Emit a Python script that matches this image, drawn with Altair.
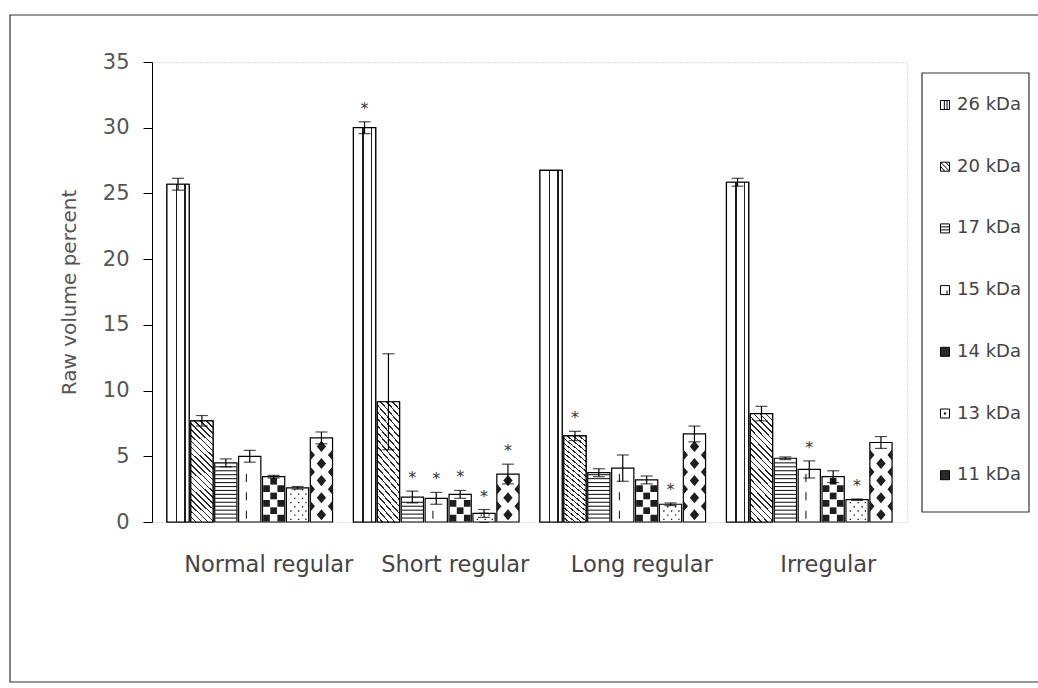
import altair as alt
import pandas as pd

# ---- data -------------------------------------------------------------
groups = ["Normal regular", "Short regular", "Long regular", "Irregular"]
bands = ["26 kDa", "20 kDa", "17 kDa", "15 kDa", "14 kDa", "13 kDa", "11 kDa"]

normal_regular = [25.7, 7.7, 4.5, 5.0, 3.45, 2.6, 6.4]
short_regular = [30.0, 9.15, 1.9, 1.8, 2.1, 0.65, 3.65]
long_regular = [26.75, 6.55, 3.75, 4.1, 3.2, 1.35, 6.7]
irregular = [25.85, 8.25, 4.85, 4.0, 3.45, 1.7, 6.05]

normal_regular_err = [0.45, 0.4, 0.3, 0.45, 0.1, 0.1, 0.45]
short_regular_err = [0.45, 3.65, 0.45, 0.45, 0.3, 0.3, 0.75]
long_regular_err = [0.0, 0.35, 0.3, 1.0, 0.3, 0.1, 0.6]
irregular_err = [0.3, 0.55, 0.1, 0.65, 0.45, 0.05, 0.45]

# 1 = significant difference (asterisk)
normal_regular_sig = [0, 0, 0, 0, 0, 0, 0]
short_regular_sig = [1, 0, 1, 1, 1, 1, 1]
long_regular_sig = [0, 1, 0, 0, 0, 1, 0]
irregular_sig = [0, 0, 0, 1, 0, 1, 0]

values = [normal_regular, short_regular, long_regular, irregular]
errors = [normal_regular_err, short_regular_err, long_regular_err, irregular_err]
sigs = [normal_regular_sig, short_regular_sig, long_regular_sig, irregular_sig]

rows = []
for g, vals, errs, sg in zip(groups, values, errors, sigs):
    for b, v, e, s in zip(bands, vals, errs, sg):
        rows.append({"group": g, "band": b, "value": v, "mid": v / 2, "err": e,
                     "lo": v - e, "hi": v + e, "sig": s})
df = pd.DataFrame(rows)

# ---- layout -----------------------------------------------------------
W, H = 755, 460
FONT = "DejaVu Sans"
INK = "#1e1e1e"
PAD_IN, PAD_OUT = 0.112, 0.08
SUB_PAD = 0.07
step = W / (len(groups) - PAD_IN + 2 * PAD_OUT)
bar_w = step * (1 - PAD_IN) / (len(bands) - SUB_PAD) * (1 - SUB_PAD)
SYM = bar_w ** 2  # custom symbol paths span [-1, 1] across one bar

x_enc = alt.X("group:N", sort=groups,
              scale=alt.Scale(paddingInner=PAD_IN, paddingOuter=PAD_OUT),
              axis=alt.Axis(title=None, ticks=False, domain=False, labelAngle=0,
                            labelFont=FONT, labelFontSize=22.5, labelColor="#444",
                            labelPadding=31, labelOffset=19, labelLimit=300))
xo_enc = alt.XOffset("band:N", sort=bands,
                     scale=alt.Scale(paddingInner=SUB_PAD, paddingOuter=0))
y_scale = alt.Scale(domain=[0, 35], nice=False)
y_axis = alt.Axis(values=list(range(0, 36, 5)), grid=False, domainColor="black",
                  tickColor="black", tickSize=9, labelFont=FONT, labelFontSize=21,
                  labelColor="#555", labelPadding=14, title="Raw volume percent",
                  titleFont=FONT, titleFontSize=20, titleFontWeight="normal",
                  titleColor="#555", titlePadding=23)

# ---- pattern geometry for hatched bars --------------------------------
def square(cx, cy, s):
    return f"M{cx - s:.3f},{cy - s:.3f}h{2 * s:.3f}v{2 * s:.3f}h{-2 * s:.3f}Z"

def row_positions(value, start, pitch, margin):
    out, k = [], 0
    while start + k * pitch + margin <= value:
        out.append((k, start + k * pitch))
        k += 1
    return out

SHAPES = {
    "hline": ("M-1,0H1", False),
    "dash": ("M-0.3,-0.36V0.36", False),
    "check_a": (square(-0.64, 0, 0.3) + " " + square(0.64, 0, 0.3), True),
    "check_b": (square(0, 0, 0.3), True),
    "dots_a": (" ".join(square(x, 0, 0.06) for x in [-0.6, 0.1, 0.75]), True),
    "dots_b": (" ".join(square(x, 0, 0.06) for x in [-0.25, 0.45]), True),
    "diamond": ("M0,-0.5L0.42,0L0,0.5L-0.42,0Z", True),
    "edges": ("M-1,-0.5L-0.58,0L-1,0.5Z M1,-0.5L0.58,0L1,0.5Z", True),
}

pattern_rows = []
for r in rows:
    g, b, v = r["group"], r["band"], r["value"]
    if b == "17 kDa":
        pattern_rows += [{"group": g, "band": b, "y": y, "kind": "hline"}
                         for k, y in row_positions(v, 0.3, 0.3, 0.12)]
    elif b == "15 kDa":
        pattern_rows += [{"group": g, "band": b, "y": y, "kind": "dash"}
                         for k, y in row_positions(v, 0.55, 1.4, 0.32)]
    elif b == "14 kDa":
        pattern_rows += [{"group": g, "band": b, "y": y, "kind": "check_a" if k % 2 == 0 else "check_b"}
                         for k, y in row_positions(v, 0.3, 0.56, 0.26)]
    elif b == "13 kDa":
        pattern_rows += [{"group": g, "band": b, "y": y, "kind": "dots_a" if k % 2 == 0 else "dots_b"}
                         for k, y in row_positions(v, 0.2, 0.32, 0.12)]
    elif b == "11 kDa":
        pattern_rows += [{"group": g, "band": b, "y": y, "kind": "diamond" if k % 2 == 0 else "edges"}
                         for k, y in row_positions(v, 0.55, 0.65, 0.42)]
pattern_df = pd.DataFrame(pattern_rows)

# double vertical lines for the 26 kDa bars
stops26 = [alt.GradientStop(color="white", offset=0.0), alt.GradientStop(color="white", offset=0.40),
           alt.GradientStop(color=INK, offset=0.40), alt.GradientStop(color=INK, offset=0.46),
           alt.GradientStop(color="white", offset=0.46), alt.GradientStop(color="white", offset=0.78),
           alt.GradientStop(color=INK, offset=0.78), alt.GradientStop(color=INK, offset=0.84),
           alt.GradientStop(color="white", offset=0.84), alt.GradientStop(color="white", offset=1.0)]
grad26 = alt.LinearGradient(gradient="linear", stops=stops26, x1=0, y1=0, x2=1, y2=0)

# diagonal hatching for the 20 kDa bars
N_HATCH = 21
stops20 = []
for i in range(N_HATCH):
    a, m, c = i / N_HATCH, (i + 0.74) / N_HATCH, (i + 1) / N_HATCH
    stops20 += [alt.GradientStop(color="white", offset=a), alt.GradientStop(color="white", offset=m),
                alt.GradientStop(color="#2a2a2a", offset=m), alt.GradientStop(color="#2a2a2a", offset=c)]
grad20 = alt.LinearGradient(gradient="linear", stops=stops20, x1=0, y1=1, x2=0.246, y2=-0.159)

# ---- legend symbols ----------------------------------------------------
legend_shapes = [
    "M-1,-1H1V1H-1Z M-0.15,-1V1 M0.45,-1V1",
    "M-1,-1H1V1H-1Z M-1,-1L1,1 M-1,-0.1L-0.1,1 M0.1,-1L1,-0.1",
    "M-1,-1H1V1H-1Z M-1,-0.33H1 M-1,0.33H1",
    "M-1,-1H1V1H-1Z M0.45,0.1V1",
    "M-1,-1H1V1H-1Z",
    "M-1,-1H1V1H-1Z M-0.15,-0.15H0.15V0.15H-0.15Z",
    "M-1,-1H1V1H-1Z",
]
legend_fills = ["white", "white", "white", "white", "#2a2a2a", "white", "#2a2a2a"]

legend = alt.Legend(orient="none", legendX=784, legendY=34, title=None, padding=0,
                    symbolSize=81, symbolStrokeColor="black", symbolStrokeWidth=1,
                    labelFont=FONT, labelFontSize=18, labelColor="#444", labelOffset=3,
                    rowPadding=43.7)

# ---- layers -----------------------------------------------------------
one = pd.DataFrame({"k": [0]})
frame = alt.Chart(one).mark_rect(fill="white", fillOpacity=0, stroke="#333", strokeWidth=1.2).encode(
    x=alt.value(-142), x2=alt.value(900), y=alt.value(-47), y2=alt.value(620))
legend_box = alt.Chart(one).mark_rect(fill="white", fillOpacity=0, stroke="#333", strokeWidth=1.2).encode(
    x=alt.value(770), x2=alt.value(877), y=alt.value(11), y2=alt.value(450))

base = alt.Chart(df)
# legend keys, drawn first so the bars cover them
keys = base.mark_point(filled=True, opacity=1, size=81, stroke="black", strokeWidth=1).encode(
    x=x_enc, xOffset=xo_enc, y=alt.Y("mid:Q", scale=y_scale, axis=y_axis),
    shape=alt.Shape("band:N", sort=bands, scale=alt.Scale(domain=bands, range=legend_shapes), legend=legend),
    color=alt.Color("band:N", sort=bands, scale=alt.Scale(domain=bands, range=legend_fills), legend=legend))
bars = base.mark_bar(fill="white", stroke="black", strokeWidth=1.2).encode(
    x=x_enc, xOffset=xo_enc, y=alt.Y("value:Q", scale=y_scale, axis=y_axis))
bars26 = base.transform_filter(alt.datum.band == "26 kDa").mark_bar(
    fill=grad26, stroke="black", strokeWidth=1.2).encode(x=x_enc, xOffset=xo_enc, y="value:Q")
bars20 = base.transform_filter(alt.datum.band == "20 kDa").mark_bar(
    fill=grad20, stroke="black", strokeWidth=1.2).encode(x=x_enc, xOffset=xo_enc, y="value:Q")

pattern_layers = []
for kind, (path, filled) in SHAPES.items():
    if filled:
        mk = dict(filled=True, fill=INK, strokeWidth=0)
    else:
        mk = dict(filled=False, stroke=INK, strokeWidth=1.1)
    pattern_layers.append(
        alt.Chart(pattern_df).transform_filter(alt.datum.kind == kind)
        .mark_point(shape=path, size=SYM, opacity=1, **mk)
        .encode(x=x_enc, xOffset=xo_enc, y="y:Q"))

err = base.transform_filter(alt.datum.err > 0)
err_rule = err.mark_rule(color="black", strokeWidth=1.2).encode(
    x=x_enc, xOffset=xo_enc, y="lo:Q", y2="hi:Q")
cap_hi = err.mark_tick(color="black", thickness=1.2, size=12).encode(
    x=x_enc, xOffset=xo_enc, y="hi:Q")
cap_lo = err.mark_tick(color="black", thickness=1.2, size=12).encode(
    x=x_enc, xOffset=xo_enc, y="lo:Q")
stars = base.transform_filter(alt.datum.sig == 1).mark_text(
    text="*", font=FONT, fontSize=16, fill="#333", dy=-13, baseline="middle").encode(
    x=x_enc, xOffset=xo_enc, y="hi:Q")

chart = alt.layer(frame, legend_box, keys, bars, bars26, bars20, *pattern_layers,
                  err_rule, cap_hi, cap_lo, stars).properties(
    width=W, height=H,
    autosize=alt.AutoSizeParams(type="none"),
    padding={"left": 152, "top": 62, "right": 1038 - 152 - W, "bottom": 688 - 62 - H},
    background="white",
).configure_view(stroke="#bdbdbd", strokeDash=[1, 2], strokeWidth=1)

chart.save("out.html", embed_options={"renderer": "svg", "actions": False})
